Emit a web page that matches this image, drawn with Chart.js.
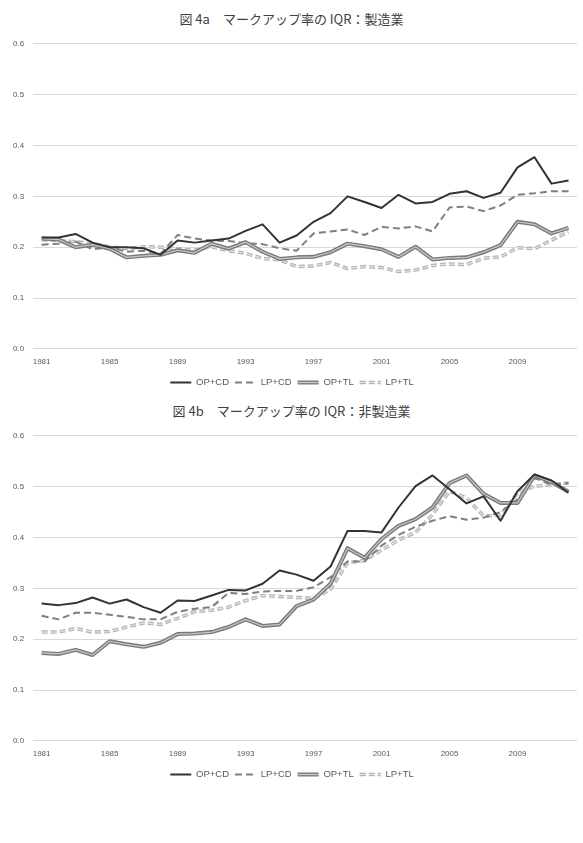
<!DOCTYPE html>
<html lang="ja">
<head>
  <meta charset="utf-8" />
  <title>マークアップ率の IQR</title>
  <style>
    * { margin: 0; padding: 0; box-sizing: border-box; }
    body { width: 583px; height: 843px; background: #ffffff; position: relative; overflow: hidden; }
    .title {
      position: absolute;
      left: 0;
      width: 583px;
      text-align: center;
      font-family: "Noto Sans CJK JP", sans-serif;
      font-size: 13px;
      color: #404040;
      line-height: 18px;
    }
    .box { position: absolute; left: 0; width: 583px; height: 367px; }
  </style>
</head>
<body>
  <div class="title" style="top: 10px;">図 4a　マークアップ率の IQR：製造業</div>
  <div class="box" style="top: 30px;"><canvas id="mfg"></canvas></div>
  <div class="title" style="top: 402px;">図 4b　マークアップ率の IQR：非製造業</div>
  <div class="box" style="top: 422px;"><canvas id="nonmfg"></canvas></div>

  <script src="https://cdn.jsdelivr.net/npm/chart.js@4.4.1/dist/chart.umd.min.js"></script>
  <script>
    // years 1981-2012
    const years = ["1981","1982","1983","1984","1985","1986","1987","1988","1989","1990",
      "1991","1992","1993","1994","1995","1996","1997","1998","1999","2000",
      "2001","2002","2003","2004","2005","2006","2007","2008","2009","2010","2011","2012"];
    const yTicks = [0, 0.1, 0.2, 0.3, 0.4, 0.5, 0.6];
    const seriesNames = ["OP+CD", "LP+CD", "OP+TL", "LP+TL"];

    // 図 4a 製造業
    const mfgOpCd = [0.219,0.219,0.226,0.209,0.200,0.200,0.198,0.185,0.213,0.209,0.213,0.217,0.232,0.245,0.209,0.223,
      0.250,0.267,0.300,0.289,0.277,0.303,0.286,0.289,0.305,0.310,0.297,0.307,0.357,0.377,0.325,0.331];
    const mfgLpCd = [0.205,0.207,0.211,0.196,0.200,0.191,0.193,0.187,0.224,0.217,0.213,0.212,0.208,0.206,0.198,0.193,
      0.227,0.231,0.235,0.224,0.240,0.237,0.241,0.231,0.278,0.280,0.271,0.282,0.303,0.306,0.310,0.310];
    const mfgOpTl = [0.217,0.215,0.200,0.205,0.197,0.180,0.183,0.185,0.194,0.189,0.207,0.197,0.210,0.191,0.177,0.180,
      0.181,0.190,0.207,0.202,0.196,0.181,0.201,0.176,0.179,0.180,0.190,0.204,0.250,0.245,0.227,0.238];
    const mfgLpTl = [0.215,0.213,0.211,0.207,0.201,0.197,0.201,0.200,0.197,0.194,0.201,0.193,0.188,0.178,0.175,0.162,
      0.163,0.170,0.158,0.162,0.160,0.152,0.155,0.164,0.167,0.166,0.178,0.181,0.199,0.197,0.214,0.230];

    // 図 4b 非製造業
    const nonOpCd = [0.270,0.267,0.271,0.282,0.270,0.278,0.263,0.252,0.276,0.275,0.286,0.297,0.296,0.309,0.335,0.327,
      0.315,0.343,0.413,0.413,0.410,0.459,0.501,0.522,0.495,0.467,0.481,0.433,0.491,0.524,0.512,0.488];
    const nonLpCd = [0.246,0.239,0.252,0.252,0.248,0.244,0.239,0.239,0.254,0.260,0.263,0.291,0.289,0.294,0.295,0.295,
      0.302,0.322,0.353,0.353,0.384,0.405,0.421,0.433,0.442,0.435,0.439,0.450,0.475,0.517,0.504,0.507];
    const nonOpTl = [0.173,0.171,0.179,0.169,0.196,0.190,0.185,0.193,0.210,0.211,0.214,0.224,0.239,0.226,0.229,0.265,
      0.278,0.309,0.379,0.360,0.397,0.423,0.436,0.459,0.507,0.522,0.486,0.468,0.468,0.522,0.509,0.490];
    const nonLpTl = [0.214,0.214,0.221,0.214,0.215,0.224,0.232,0.229,0.241,0.254,0.257,0.263,0.276,0.286,0.284,0.282,
      0.280,0.298,0.350,0.355,0.375,0.395,0.410,0.445,0.491,0.478,0.442,0.444,0.488,0.501,0.504,0.507];

    const tickFont = { family: "'Liberation Sans', Arial, sans-serif", size: 8 };

    // legend samples drawn by hand so dashes and double lines show up
    const legendSamples = {
      id: "legendSamples",
      afterDraw(chart) {
        const { ctx, legend } = chart;
        const sets = chart.data.datasets;
        legend.legendItems.forEach((item, i) => {
          const hb = legend.legendHitBoxes[i];
          const base = sets[item.datasetIndex];
          const strokes = sets.filter((d) => d.data === base.data).sort((a, b) => b.order - a.order);
          const y = Math.round(hb.top + hb.height / 2) + 0.5;
          strokes.forEach((d) => {
            ctx.save();
            ctx.strokeStyle = d.borderColor;
            ctx.lineWidth = d.borderWidth;
            ctx.setLineDash(d.borderDash);
            ctx.beginPath();
            ctx.moveTo(hb.left + 3, y);
            ctx.lineTo(hb.left + 24, y);
            ctx.stroke();
            ctx.restore();
          });
        });
      },
    };

    function makeChart(id, opCd, lpCd, opTl, lpTl) {
      const line = (label, data, color, width, dash, order) => ({
        label, data, order,
        borderColor: color,
        backgroundColor: color,
        borderWidth: width,
        borderDash: dash,
        pointRadius: 0,
        tension: 0,
        fill: false,
        borderJoinStyle: "round",
      });
      return new Chart(document.getElementById(id), {
        type: "line",
        data: {
          labels: years,
          datasets: [
            line(seriesNames[0], opCd, "#333333", 2, [], 0),
            line(seriesNames[1], lpCd, "#7f7f7f", 2, [7, 4], 3),
            line(seriesNames[2], opTl, "#7a7a7a", 4, [], 2),
            line(seriesNames[3], lpTl, "#b3b3b3", 3.5, [6, 3], 5),
            // inner strokes for the double lines
            line("", opTl, "#c8c8c8", 1.2, [], 1),
            line("", lpTl, "#e4e4e4", 1.2, [6, 3], 4),
          ],
        },
        plugins: [legendSamples],
        options: {
          responsive: true,
          maintainAspectRatio: false,
          animation: false,
          layout: { padding: { top: 8, left: 4, right: 6, bottom: 0 } },
          plugins: {
            tooltip: { enabled: false },
            legend: {
              position: "bottom",
              labels: {
                generateLabels: (chart) => Chart.defaults.plugins.legend.labels.generateLabels(chart)
                  .map((l) => ({ ...l, fillStyle: "rgba(0,0,0,0)", strokeStyle: "rgba(0,0,0,0)", lineWidth: 0 })),
                filter: (item) => item.datasetIndex < 4,
                sort: (a, b) => a.datasetIndex - b.datasetIndex,
                boxWidth: 24,
                boxHeight: 9.5,
                color: "#595959",
                padding: 3,
                font: { family: "'Liberation Sans', Arial, sans-serif", size: 9.5 },
              },
            },
          },
          scales: {
            x: {
              offset: true,
              grid: { display: false, drawTicks: false },
              border: { display: false },
              ticks: {
                autoSkip: false,
                maxRotation: 0,
                padding: 8,
                color: "#595959",
                font: tickFont,
                callback: (v, i) => (i % 4 === 0 ? years[i] : ""),
              },
            },
            y: {
              min: 0,
              max: 0.6,
              afterBuildTicks: (axis) => { axis.ticks = yTicks.map((v) => ({ value: v })); },
              grid: { color: "#d9d9d9", lineWidth: 1, drawTicks: false },
              border: { display: false },
              ticks: {
                padding: 9,
                color: "#595959",
                font: tickFont,
                callback: (v) => v.toFixed(1),
              },
            },
          },
        },
      });
    }

    makeChart("mfg", mfgOpCd, mfgLpCd, mfgOpTl, mfgLpTl);
    makeChart("nonmfg", nonOpCd, nonLpCd, nonOpTl, nonLpTl);
  </script>
</body>
</html>
